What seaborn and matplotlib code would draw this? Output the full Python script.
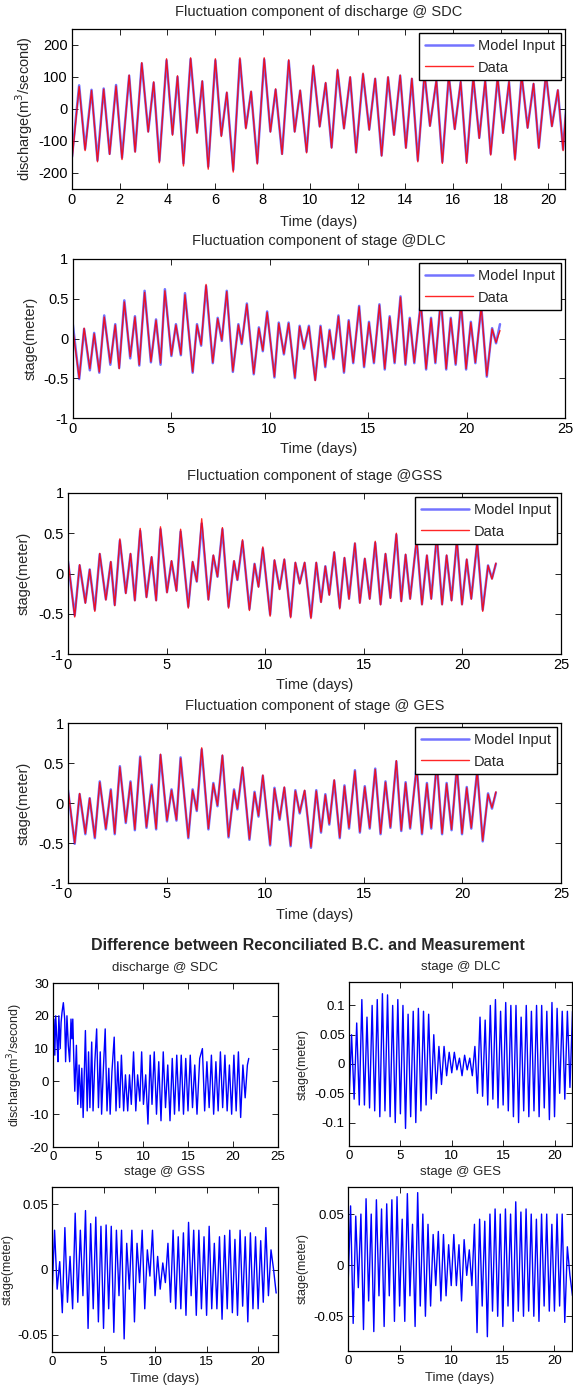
import matplotlib
matplotlib.use("Agg")
import matplotlib.pyplot as plt
import seaborn as sns
from matplotlib.ticker import FuncFormatter

# ---- fluctuation of discharge @ SDC (turning points) ----
dis_t = [0.0, 0.3, 0.55, 0.82, 1.07, 1.33, 1.58, 1.85, 2.1, 2.4,
         2.65, 2.93, 3.2, 3.43, 3.67, 3.97, 4.22, 4.43, 4.68, 4.98,
         5.25, 5.47, 5.72, 6.02, 6.27, 6.5, 6.77, 7.05, 7.3, 7.52,
         7.78, 8.07, 8.33, 8.55, 8.82, 9.1, 9.35, 9.58, 9.85, 10.13,
         10.4, 10.65, 10.9, 11.15, 11.42, 11.68, 11.93, 12.22, 12.48, 12.73,
         13.0, 13.27, 13.52, 13.78, 14.02, 14.27, 14.52, 14.8, 15.03, 15.3,
         15.55, 15.82, 16.07, 16.32, 16.57, 16.85, 17.1, 17.35, 17.58, 17.87,
         18.1, 18.35, 18.6, 18.88, 19.13, 19.38, 19.6, 19.9, 20.15, 20.4,
         20.62, 20.9]
dis_data = [-160, 70, -130, 58, -165, 62, -142, 72, -158, 106,
            -135, 145, -72, 85, -168, 157, -82, 104, -178, 160,
            -76, 88, -188, 157, -86, 53, -197, 160, -62, 56,
            -172, 160, -72, 63, -142, 154, -72, 59, -137, 137,
            -56, 83, -122, 124, -62, 101, -137, 112, -66, 96,
            -147, 101, -82, 106, -123, 96, -165, 112, -54, 91,
            -170, 106, -64, 86, -170, 101, -92, 91, -144, 101,
            -76, 86, -160, 106, -60, 80, -123, 111, -55, 60,
            -130, 172]
dis_model = [-150, 74, -125, 60, -160, 64, -140, 75, -152, 104,
             -132, 142, -70, 82, -162, 152, -78, 100, -170, 156,
             -72, 86, -180, 152, -82, 50, -190, 155, -58, 53,
             -168, 155, -70, 60, -140, 150, -70, 57, -133, 133,
             -54, 80, -120, 120, -60, 98, -135, 108, -64, 94,
             -145, 98, -80, 104, -120, 94, -160, 110, -52, 88,
             -165, 104, -62, 84, -165, 98, -90, 88, -140, 98,
             -74, 84, -155, 104, -58, 78, -120, 108, -53, 58,
             -126, 150]

# ---- fluctuation of stage @ DLC / GSS / GES ----
st_t = [0.0, 0.34, 0.59, 0.88, 1.1, 1.36, 1.61, 1.92, 2.17, 2.37,
        2.63, 2.93, 3.17, 3.39, 3.66, 3.98, 4.24, 4.47, 4.69, 5.02,
        5.25, 5.5, 5.71, 6.1, 6.32, 6.53, 6.78, 7.12, 7.37, 7.58,
        7.83, 8.14, 8.42, 8.59, 8.85, 9.2, 9.46, 9.66, 9.88, 10.25,
        10.47, 10.73, 10.97, 11.29, 11.53, 11.75, 12.0, 12.32, 12.59, 12.83,
        13.05, 13.25, 13.5, 13.78, 14.02, 14.25, 14.55, 14.8, 15.05, 15.3,
        15.58, 15.85, 16.1, 16.35, 16.65, 16.9, 17.12, 17.35, 17.68, 17.95,
        18.2, 18.42, 18.7, 18.97, 19.2, 19.45, 19.72, 19.98, 20.22, 20.45,
        20.75, 21.03, 21.3, 21.5, 21.7]
dlc_data = [0.15, -0.5, 0.13, -0.38, 0.06, -0.42, 0.27, -0.31, 0.17, -0.38,
            0.46, -0.23, 0.27, -0.33, 0.58, -0.29, 0.23, -0.31, 0.6, -0.21,
            0.17, -0.2, 0.55, -0.42, 0.17, -0.08, 0.68, -0.3, 0.25, -0.02,
            0.59, -0.41, 0.17, -0.06, 0.43, -0.44, 0.13, -0.15, 0.33, -0.48,
            0.19, -0.19, 0.19, -0.49, 0.15, -0.12, 0.15, -0.53, 0.15, -0.35,
            0.1, -0.25, 0.28, -0.42, 0.22, -0.3, 0.4, -0.35, 0.2, -0.3,
            0.42, -0.38, 0.27, -0.3, 0.52, -0.32, 0.25, -0.3, 0.45, -0.38,
            0.25, -0.3, 0.5, -0.38, 0.25, -0.32, 0.45, -0.38, 0.2, -0.3,
            0.4, -0.47, 0.12, -0.05, 0.1]
dlc_model = [0.21, -0.51, 0.12, -0.4, 0.07, -0.43, 0.29, -0.33, 0.18, -0.37,
             0.48, -0.25, 0.28, -0.34, 0.6, -0.3, 0.24, -0.33, 0.62, -0.22,
             0.18, -0.21, 0.57, -0.43, 0.18, -0.09, 0.66, -0.31, 0.26, -0.03,
             0.6, -0.42, 0.18, -0.07, 0.44, -0.45, 0.14, -0.16, 0.34, -0.49,
             0.2, -0.2, 0.2, -0.5, 0.16, -0.13, 0.16, -0.52, 0.16, -0.36,
             0.11, -0.26, 0.29, -0.43, 0.23, -0.31, 0.41, -0.36, 0.21, -0.31,
             0.43, -0.39, 0.28, -0.31, 0.53, -0.33, 0.26, -0.31, 0.46, -0.39,
             0.26, -0.31, 0.51, -0.39, 0.26, -0.33, 0.46, -0.39, 0.21, -0.31,
             0.41, -0.48, 0.13, -0.06, 0.18]
gss_data = [0.17, -0.54, 0.11, -0.37, 0.05, -0.47, 0.25, -0.33, 0.15, -0.4,
            0.43, -0.25, 0.25, -0.34, 0.56, -0.3, 0.21, -0.34, 0.58, -0.24,
            0.16, -0.22, 0.55, -0.43, 0.15, -0.1, 0.68, -0.33, 0.23, -0.04,
            0.57, -0.43, 0.16, -0.08, 0.42, -0.46, 0.12, -0.17, 0.33, -0.53,
            0.17, -0.2, 0.18, -0.55, 0.14, -0.13, 0.14, -0.56, 0.14, -0.36,
            0.09, -0.27, 0.27, -0.44, 0.2, -0.32, 0.38, -0.37, 0.19, -0.32,
            0.4, -0.39, 0.25, -0.31, 0.5, -0.35, 0.24, -0.32, 0.44, -0.39,
            0.23, -0.32, 0.48, -0.39, 0.23, -0.34, 0.43, -0.39, 0.18, -0.32,
            0.4, -0.47, 0.1, -0.07, 0.13]
gss_model = [0.15, -0.52, 0.1, -0.36, 0.05, -0.45, 0.24, -0.32, 0.14, -0.39,
             0.41, -0.24, 0.24, -0.33, 0.53, -0.29, 0.2, -0.33, 0.55, -0.23,
             0.15, -0.21, 0.52, -0.41, 0.14, -0.1, 0.62, -0.32, 0.22, -0.04,
             0.55, -0.41, 0.15, -0.08, 0.4, -0.44, 0.12, -0.16, 0.31, -0.51,
             0.16, -0.19, 0.17, -0.53, 0.13, -0.12, 0.13, -0.54, 0.13, -0.35,
             0.09, -0.26, 0.26, -0.42, 0.19, -0.31, 0.37, -0.36, 0.18, -0.31,
             0.38, -0.38, 0.24, -0.3, 0.48, -0.34, 0.23, -0.31, 0.42, -0.38,
             0.22, -0.31, 0.46, -0.38, 0.22, -0.33, 0.41, -0.38, 0.17, -0.31,
             0.38, -0.45, 0.1, -0.06, 0.12]
ges_data = [0.17, -0.5, 0.12, -0.38, 0.06, -0.43, 0.26, -0.32, 0.16, -0.38,
            0.45, -0.24, 0.26, -0.33, 0.57, -0.3, 0.22, -0.32, 0.61, -0.22,
            0.16, -0.21, 0.56, -0.43, 0.16, -0.09, 0.69, -0.32, 0.24, -0.03,
            0.6, -0.42, 0.16, -0.07, 0.45, -0.45, 0.13, -0.16, 0.35, -0.52,
            0.18, -0.2, 0.2, -0.53, 0.15, -0.12, 0.16, -0.55, 0.15, -0.36,
            0.1, -0.26, 0.29, -0.43, 0.21, -0.31, 0.4, -0.36, 0.2, -0.31,
            0.42, -0.38, 0.26, -0.3, 0.53, -0.34, 0.25, -0.31, 0.45, -0.38,
            0.24, -0.31, 0.5, -0.38, 0.24, -0.33, 0.45, -0.38, 0.19, -0.31,
            0.4, -0.47, 0.11, -0.06, 0.14]
ges_model = [0.16, -0.51, 0.11, -0.39, 0.06, -0.44, 0.27, -0.33, 0.17, -0.39,
             0.46, -0.25, 0.27, -0.34, 0.58, -0.31, 0.23, -0.33, 0.6, -0.23,
             0.17, -0.22, 0.57, -0.44, 0.17, -0.1, 0.67, -0.33, 0.25, -0.04,
             0.59, -0.43, 0.17, -0.08, 0.44, -0.46, 0.14, -0.17, 0.34, -0.53,
             0.19, -0.21, 0.19, -0.54, 0.16, -0.13, 0.15, -0.56, 0.16, -0.37,
             0.11, -0.27, 0.28, -0.44, 0.22, -0.32, 0.41, -0.37, 0.21, -0.32,
             0.43, -0.39, 0.27, -0.31, 0.52, -0.35, 0.26, -0.32, 0.46, -0.39,
             0.25, -0.32, 0.51, -0.39, 0.25, -0.34, 0.46, -0.39, 0.2, -0.32,
             0.41, -0.48, 0.12, -0.07, 0.13]

# ---- difference between reconciliated B.C. and measurement ----
sdc_t = [0.0, 0.1, 0.2, 0.3, 0.45, 0.55, 0.65, 0.8, 0.9, 1.0,
         1.15, 1.3, 1.4, 1.55, 1.7, 1.85, 2.0, 2.1, 2.2, 2.3,
         2.42, 2.6, 2.75, 2.9, 3.1, 3.2, 3.35, 3.6, 3.8, 3.95,
         4.1, 4.3, 4.45, 4.65, 4.85, 5.05, 5.25, 5.4, 5.6, 5.8,
         6.0, 6.2, 6.35, 6.55, 6.8, 7.0, 7.2, 7.4, 7.6, 7.85,
         8.05, 8.3, 8.5, 8.7, 8.95, 9.2, 9.4, 9.65, 9.85, 10.05,
         10.3, 10.55, 10.8, 11.0, 11.25, 11.5, 11.75, 12.0, 12.25, 12.5,
         12.75, 13.0, 13.25, 13.5, 13.75, 14.0, 14.25, 14.5, 14.75, 15.0,
         15.25, 15.5, 15.75, 16.0, 16.3, 16.6, 16.85, 17.1, 17.35, 17.6,
         17.85, 18.1, 18.35, 18.6, 18.85, 19.1, 19.35, 19.6, 19.85, 20.1,
         20.35, 20.6, 20.85, 21.1, 21.35, 21.6, 21.75]
sdc_diff = [8, 19, 8, 20, 12, 6, 20, 10, 18, 21,
            24, 19, 6, 20, 11, 6, 19, 13, 19, 8,
            -3, 11, -7, 5, -8, 4, -11, 15.5, -9, 9,
            -8, 12, -9, 6, 16, -8, 9, -10, 4, 16,
            -9, 4, -10, 3, 13.5, -9, 6, -8, 8, -9,
            2, -9, 2, -7, 9, -9, 2, -6, 9, -7,
            2, -13, 8, -7, 9, -10, 6, -12, 9, -8,
            5, -12, 7, -10, 8, -9, 8, -10, 7, -9,
            8, -8, 5, -10, 7, 10, -9, 6, -8, 8,
            -10, 6, -9, 9, -8, 8, -9, 5, -10, 8,
            -9, 9, -11, 5, -5, 5, 7]

diff_t = [0.0, 0.25, 0.5, 0.75, 1.0, 1.25, 1.5, 1.75, 2.0, 2.25,
          2.5, 2.75, 3.0, 3.25, 3.5, 3.75, 4.0, 4.25, 4.5, 4.75,
          5.0, 5.25, 5.5, 5.75, 6.0, 6.25, 6.5, 6.75, 7.0, 7.25,
          7.5, 7.75, 8.0, 8.25, 8.5, 8.75, 9.0, 9.25, 9.5, 9.75,
          10.0, 10.25, 10.5, 10.75, 11.0, 11.25, 11.5, 11.75, 12.0, 12.25,
          12.5, 12.75, 13.0, 13.25, 13.5, 13.75, 14.0, 14.25, 14.5, 14.75,
          15.0, 15.25, 15.5, 15.75, 16.0, 16.25, 16.5, 16.75, 17.0, 17.25,
          17.5, 17.75, 18.0, 18.25, 18.5, 18.75, 19.0, 19.25, 19.5, 19.75,
          20.0, 20.25, 20.5, 20.75, 21.0, 21.25, 21.5, 21.75]
dlc_diff = [-0.065, 0.05, -0.06, 0.07, -0.07, 0.11, -0.07, 0.08, -0.075, 0.1,
            -0.08, 0.11, -0.09, 0.12, -0.08, 0.118, -0.09, 0.1, -0.1, 0.11,
            -0.085, 0.1, -0.11, 0.085, -0.09, 0.09, -0.1, 0.095, -0.08, 0.09,
            -0.07, 0.085, -0.06, 0.05, -0.05, 0.03, -0.035, 0.03, -0.02, 0.02,
            -0.015, 0.02, -0.01, 0.01, -0.02, 0.015, -0.01, 0.01, -0.02, 0.03,
            -0.05, 0.08, -0.055, 0.075, -0.07, 0.1, -0.06, 0.11, -0.075, 0.09,
            -0.07, 0.105, -0.08, 0.1, -0.09, 0.1, -0.1, 0.08, -0.08, 0.1,
            -0.09, 0.09, -0.08, 0.1, -0.09, 0.1, -0.075, 0.09, -0.095, 0.105,
            -0.09, 0.095, -0.05, 0.09, -0.06, 0.09, -0.04, 0.09]
gss_diff = [-0.02, 0.03, -0.015, 0.006, -0.033, 0.032, -0.025, 0.01, -0.03, 0.043,
            -0.025, 0.03, -0.02, 0.045, -0.045, 0.035, -0.03, 0.04, -0.04, 0.033,
            -0.045, 0.034, -0.03, 0.033, -0.048, 0.03, -0.02, 0.03, -0.053, 0.02,
            -0.015, 0.03, -0.04, 0.02, -0.01, 0.03, -0.03, 0.015, -0.005, 0.03,
            -0.02, 0.01, -0.015, 0.005, -0.01, 0.02, -0.025, 0.03, -0.03, 0.025,
            -0.03, 0.028, -0.035, 0.036, -0.02, 0.03, -0.035, 0.03, -0.03, 0.025,
            -0.035, 0.033, -0.03, 0.02, -0.03, 0.025, -0.038, 0.026, -0.03, 0.03,
            -0.033, 0.023, -0.035, 0.03, -0.028, 0.025, -0.04, 0.028, -0.03, 0.025,
            -0.03, 0.022, -0.025, 0.032, -0.02, 0.015, 0.0, -0.018]
ges_diff = [-0.022, 0.058, -0.057, 0.048, -0.022, 0.05, -0.063, 0.065, -0.035, 0.05,
            -0.065, 0.064, -0.03, 0.055, -0.06, 0.06, -0.03, 0.064, -0.055, 0.067,
            -0.04, 0.045, -0.055, 0.07, -0.03, 0.04, -0.06, 0.071, -0.04, 0.05,
            -0.05, 0.04, -0.04, 0.03, -0.02, 0.033, -0.035, 0.03, -0.03, 0.02,
            -0.02, 0.03, -0.02, 0.02, -0.035, 0.025, -0.01, 0.015, -0.02, 0.04,
            -0.066, 0.045, -0.04, 0.043, -0.07, 0.05, -0.045, 0.055, -0.05, 0.05,
            -0.06, 0.055, -0.04, 0.05, -0.055, 0.062, -0.045, 0.052, -0.05, 0.055,
            -0.045, 0.05, -0.05, 0.045, -0.055, 0.05, -0.04, 0.05, -0.045, 0.04,
            -0.045, 0.05, -0.04, 0.05, -0.056, 0.018, -0.01, -0.03]

sns.set_style("ticks")
plt.rcParams['font.family'] = ['Liberation Sans', 'DejaVu Sans']

W, H = 573, 1389
fig = plt.figure(figsize=(W / 100, H / 100), dpi=100)


def px_axes(x0, x1, y0, y1):
    # axes box given in pixel coords of the 573x1389 picture
    return fig.add_axes([x0 / W, 1 - y1 / H, (x1 - x0) / W, (y1 - y0) / H])


fmt = FuncFormatter(lambda v, p: f"{v:g}")


def matlab_style(ax, fs):
    ax.tick_params(direction='in', top=True, right=True, length=4.5, width=0.6,
                   labelsize=fs, pad=3, colors='black')
    for s in ax.spines.values():
        s.set_linewidth(0.9)
        s.set_color('black')
    ax.xaxis.set_major_formatter(fmt)
    ax.yaxis.set_major_formatter(fmt)


FS = 10.5


def fluct_panel(ax, t, model, data, title, ylabel, title_y, ylab_x, xlab_y):
    sns.lineplot(x=t, y=model, ax=ax, color='blue', alpha=0.55, lw=1.8, label='Model Input')
    sns.lineplot(x=t, y=data, ax=ax, color='red', alpha=0.85, lw=1.0, label='Data')
    matlab_style(ax, FS)
    leg = ax.legend(loc='upper right', frameon=True, fancybox=False, fontsize=FS,
                    borderaxespad=0.3, handlelength=3.3, handletextpad=0.3,
                    borderpad=0.4, labelspacing=0.5)
    leg.get_frame().set_edgecolor('black')
    leg.get_frame().set_linewidth(1.0)
    leg.get_frame().set_alpha(1)
    ax.text(0.5, title_y, title, transform=ax.transAxes, ha='center', va='center', fontsize=FS)
    ax.set_xlabel('Time (days)', fontsize=FS)
    ax.set_ylabel(ylabel, fontsize=FS)
    ax.xaxis.set_label_coords(0.5, xlab_y)
    ax.yaxis.set_label_coords(ylab_x, 0.5)


# panel 1: discharge @ SDC
ax1 = px_axes(72, 565, 29, 189)
fluct_panel(ax1, dis_t, dis_model, dis_data, 'Fluctuation component of discharge @ SDC',
            'discharge(m$^3$/second)', 1.109, -0.075, -0.16)
ax1.set_xlim(0, 20.7)
ax1.set_ylim(-250, 250)
ax1.set_xticks(range(0, 21, 2))
ax1.set_yticks([-200, -100, 0, 100, 200])

stage_panels = [
    (px_axes(72.5, 565, 259, 418), dlc_model, dlc_data, 'Fluctuation component of stage @DLC', 1.111, -0.07, -0.15),
    (px_axes(68, 561, 493, 654), gss_model, gss_data, 'Fluctuation component of stage @GSS', 1.107, -0.076, -0.149),
    (px_axes(68, 561, 723, 883), ges_model, ges_data, 'Fluctuation component of stage @ GES', 1.108, -0.076, -0.156),
]
for ax, mod, dat, title, ty, lx, ly in stage_panels:
    fluct_panel(ax, st_t, mod, dat, title, 'stage(meter)', ty, lx, ly)
    ax.set_xlim(0, 25)
    ax.set_ylim(-1, 1)
    ax.set_xticks(range(0, 26, 5))
    ax.set_yticks([-1, -0.5, 0, 0.5, 1])

fig.text(308 / W, 1 - 945 / H, 'Difference between Reconciliated B.C. and Measurement',
         ha='center', va='center', fontsize=11.5, fontweight='bold')

SFS = 9.5
small = [
    (px_axes(53, 278, 983, 1147), sdc_t, sdc_diff, 'discharge @ SDC', 'discharge(m$^3$/second)',
     (0, 25), (-20, 30), [-20, -10, 0, 10, 20, 30], range(0, 26, 5), -0.124, False),
    (px_axes(349, 572, 982, 1146), diff_t, dlc_diff, 'stage @ DLC', 'stage(meter)',
     (0, 21.7), (-0.14, 0.14), [-0.1, -0.05, 0, 0.05, 0.1], range(0, 21, 5), -0.18, False),
    (px_axes(52, 277.7, 1187, 1352), diff_t, gss_diff, 'stage @ GSS', 'stage(meter)',
     (0, 21.9), (-0.063, 0.063), [-0.05, 0, 0.05], range(0, 21, 5), -0.168, True),
    (px_axes(348, 572, 1187, 1351), diff_t, ges_diff, 'stage @ GES', 'stage(meter)',
     (0, 21.7), (-0.084, 0.0765), [-0.05, 0, 0.05], range(0, 21, 5), -0.175, True),
]
for ax, t, v, title, ylabel, xl, yl, yt, xt, lx, bottom in small:
    sns.lineplot(x=t, y=v, ax=ax, color='blue', lw=1.0)
    matlab_style(ax, SFS)
    ax.set_xlim(*xl)
    ax.set_ylim(*yl)
    ax.set_yticks(yt)
    ax.set_xticks(list(xt))
    ax.text(0.5, 1.093, title, transform=ax.transAxes, ha='center', va='center', fontsize=SFS)
    ax.set_ylabel(ylabel, fontsize=9)
    ax.yaxis.set_label_coords(lx, 0.5)
    if bottom:
        ax.set_xlabel('Time (days)', fontsize=SFS)
        ax.xaxis.set_label_coords(0.5, -0.127)
    else:
        ax.set_xlabel('')

fig.savefig('out.png', dpi=100)
